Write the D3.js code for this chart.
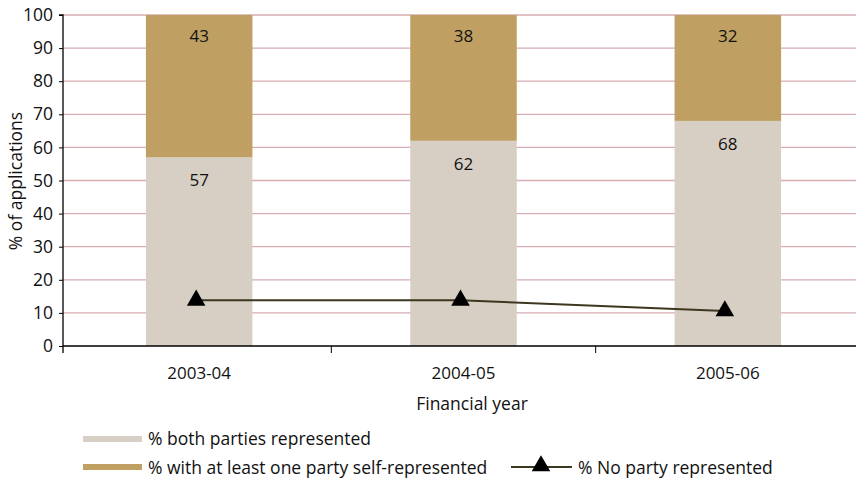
<!DOCTYPE html>
<html>
<head>
<meta charset="utf-8">
<script src="https://cdn.jsdelivr.net/npm/d3@7"></script>
<style>
  html, body { margin: 0; padding: 0; background: #fff; }
  svg { display: block; font-family: "Open Sans", "DejaVu Sans", sans-serif; }
</style>
</head>
<body>
<svg id="chart" width="856" height="481"></svg>
<script>
// Financial years shown on the x axis
const years = ["2003-04", "2004-05", "2005-06"];
// % of applications where both parties were represented
const bothRepresented = [57, 62, 68];
// % of applications with at least one party self-represented
const selfRepresented = [43, 38, 32];
// % of applications where no party was represented
const noPartyRepresented = [13.8, 13.8, 10.6];
// y axis ticks
const yTicks = [0, 10, 20, 30, 40, 50, 60, 70, 80, 90, 100];

const svg = d3.select("#chart");
const axisX = 63;
const width = 856;

const x = d3.scaleBand().domain(years).range([67, 860]).paddingInner(0).paddingOuter(0);
const y = d3.scaleLinear().domain([0, 100]).range([346, 15]);
const cx = d => x(d) + x.bandwidth() / 2;

const colBoth = "#d7cfc4", colSelf = "#bfa062", colLine = "#3d3720";
const fs = 17.5;

// horizontal gridlines
svg.append("g").selectAll("line").data(yTicks.filter(d => d > 0)).join("line")
  .attr("x1", axisX).attr("x2", width)
  .attr("y1", d => y(d)).attr("y2", d => y(d))
  .attr("stroke", "#d6aeb3").attr("stroke-width", 1.3);

// stacked bars
const barW = 106.5;
const stacks = years.map((yr, i) => ({ yr, both: bothRepresented[i], self: selfRepresented[i] }));
const bars = svg.append("g");
bars.selectAll("rect.both").data(stacks).join("rect")
  .attr("x", d => cx(d.yr) - barW / 2)
  .attr("width", barW)
  .attr("y", d => y(d.both)).attr("height", d => y(0) - y(d.both))
  .attr("fill", colBoth);
bars.selectAll("rect.self").data(stacks).join("rect")
  .attr("x", d => cx(d.yr) - barW / 2)
  .attr("width", barW)
  .attr("y", d => y(d.both + d.self)).attr("height", d => y(d.both) - y(d.both + d.self))
  .attr("fill", colSelf);

// value labels near the top of each segment
const lbl = svg.append("g").attr("font-size", 17).attr("fill", "#111").attr("text-anchor", "middle");
lbl.selectAll("text.b").data(stacks).join("text")
  .attr("x", d => cx(d.yr))
  .attr("y", d => y(d.both) + 29)
  .text(d => d.both);
lbl.selectAll("text.s").data(stacks).join("text")
  .attr("x", d => cx(d.yr))
  .attr("y", d => y(d.both + d.self) + 27)
  .text(d => d.self);

// y axis
const yAxis = d3.axisLeft(y).tickValues(yTicks).tickSize(4).tickPadding(6);
const gy = svg.append("g").attr("transform", `translate(${axisX},0)`).call(yAxis);
gy.select(".domain").attr("stroke", "#000").attr("stroke-width", 1.3).attr("d", `M-4,${y(100)}H0V${y(0) + 7}`);
gy.selectAll(".tick line").attr("stroke", "#000");
gy.selectAll(".tick text").attr("font-size", fs).attr("fill", "#111")
  .attr("font-family", "'Open Sans', sans-serif");

// x axis
const gx = svg.append("g").attr("transform", `translate(0,${y(0)})`);
gx.append("line").attr("x1", axisX).attr("x2", width).attr("y1", 0).attr("y2", 0)
  .attr("stroke", "#000").attr("stroke-width", 1.3);
gx.selectAll("line.tick").data(years.slice(1)).join("line")
  .attr("x1", d => x(d)).attr("x2", d => x(d)).attr("y1", 0).attr("y2", 7)
  .attr("stroke", "#000");
gx.selectAll("text").data(years).join("text")
  .attr("x", d => cx(d)).attr("y", 33)
  .attr("text-anchor", "middle").attr("font-size", 17).attr("fill", "#111")
  .text(d => d);

// no-party line with triangle markers
const pts = years.map((yr, i) => [cx(yr) - 3, y(noPartyRepresented[i])]);
svg.append("path").datum(pts)
  .attr("d", d3.line())
  .attr("fill", "none").attr("stroke", colLine).attr("stroke-width", 2);
const tri = d3.symbol().type(d3.symbolTriangle).size(150);
svg.append("g").selectAll("path").data(pts).join("path")
  .attr("transform", d => `translate(${d[0]},${d[1]})`)
  .attr("d", tri).attr("fill", "#000");

// axis titles
svg.append("text").attr("x", 472).attr("y", 410).attr("text-anchor", "middle")
  .attr("font-size", fs).attr("fill", "#111").text("Financial year");
svg.append("text").attr("transform", "translate(22,181) rotate(-90)")
  .attr("text-anchor", "middle").attr("font-size", fs).attr("fill", "#111")
  .text("% of applications");

// legend
const leg = svg.append("g").attr("font-size", fs).attr("fill", "#111");
leg.append("rect").attr("x", 83).attr("y", 436).attr("width", 59).attr("height", 6).attr("fill", colBoth);
leg.append("text").attr("x", 148).attr("y", 445).text("% both parties represented");
leg.append("rect").attr("x", 83).attr("y", 464).attr("width", 59).attr("height", 6).attr("fill", colSelf);
leg.append("text").attr("x", 148).attr("y", 474).text("% with at least one party self-represented");
leg.append("line").attr("x1", 511).attr("x2", 572).attr("y1", 467).attr("y2", 467)
  .attr("stroke", colLine).attr("stroke-width", 2);
leg.append("path").attr("transform", "translate(541,466)").attr("d", tri).attr("fill", "#000");
leg.append("text").attr("x", 578).attr("y", 474).text("% No party represented");
</script>
</body>
</html>
